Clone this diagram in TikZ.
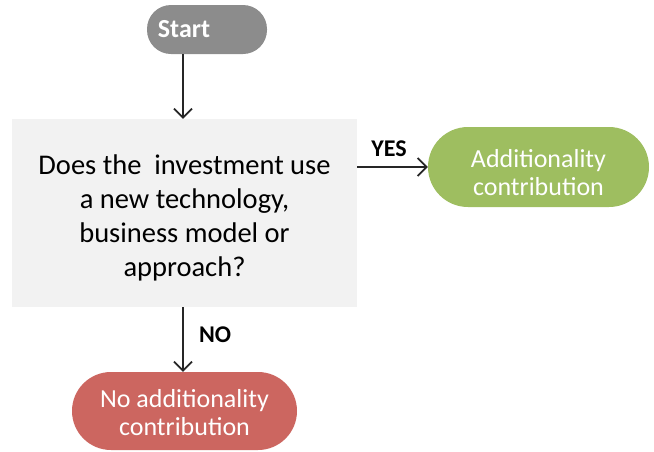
\documentclass[tikz,border=0pt]{standalone}
\usepackage{fontspec}
\setmainfont{Carlito}
\usetikzlibrary{arrows.meta}
\definecolor{startgray}{RGB}{140,140,140}
\definecolor{boxgray}{RGB}{242,242,242}
\definecolor{yesgreen}{RGB}{158,190,96}
\definecolor{nored}{RGB}{204,102,96}

\begin{document}
\begin{tikzpicture}[x=1pt,y=-1pt,
    pill/.style={rectangle,rounded corners=#1,text=white,align=center,
      inner sep=0pt,font=\fontsize{26}{28.5}\selectfont},
    flow/.style={draw=black!85,line width=1.6pt,
      -{Straight Barb[length=9pt,width=18pt,line width=1.8pt]}},
    answer/.style={font=\bfseries\fontsize{24}{26}\selectfont}]

    \useasboundingbox (0,0) rectangle (654,451);
\node[pill=24pt,fill=startgray,minimum width=120pt,minimum height=49pt,font=\bfseries\fontsize{26}{30}\selectfont] (start) at (207,29.5) {Start\hspace{46pt}};
\node[rectangle,fill=boxgray,minimum width=345pt,minimum height=188pt,align=center,font=\fontsize{28.5}{34}\selectfont] (question) at (184.5,213) {\rule{0pt}{30pt}Does the \ investment use\\a new technology,\\business model or\\approach?};
\node[pill=40pt,fill=yesgreen,minimum width=221pt,minimum height=80pt] (yes) at (538.5,167) {\rule{0pt}{29pt}Additionality\\contribution};
\node[pill=39pt,fill=nored,minimum width=225pt,minimum height=78pt] (no) at (184.5,411) {\rule{0pt}{21pt}No additionality\\contribution};
\coordinate (startout) at (183,54);
\draw[flow] (startout) -- (startout |- question.north);
\draw[flow] (question.east |- yes.west) -- node[above=6pt,pos=0.45,answer]{YES} (yes.west);
\draw[flow] (question.south -| startout) -- node[right=12pt,yshift=5pt,answer]{NO} (no.north -| startout);

  \end{tikzpicture}
\end{document}
